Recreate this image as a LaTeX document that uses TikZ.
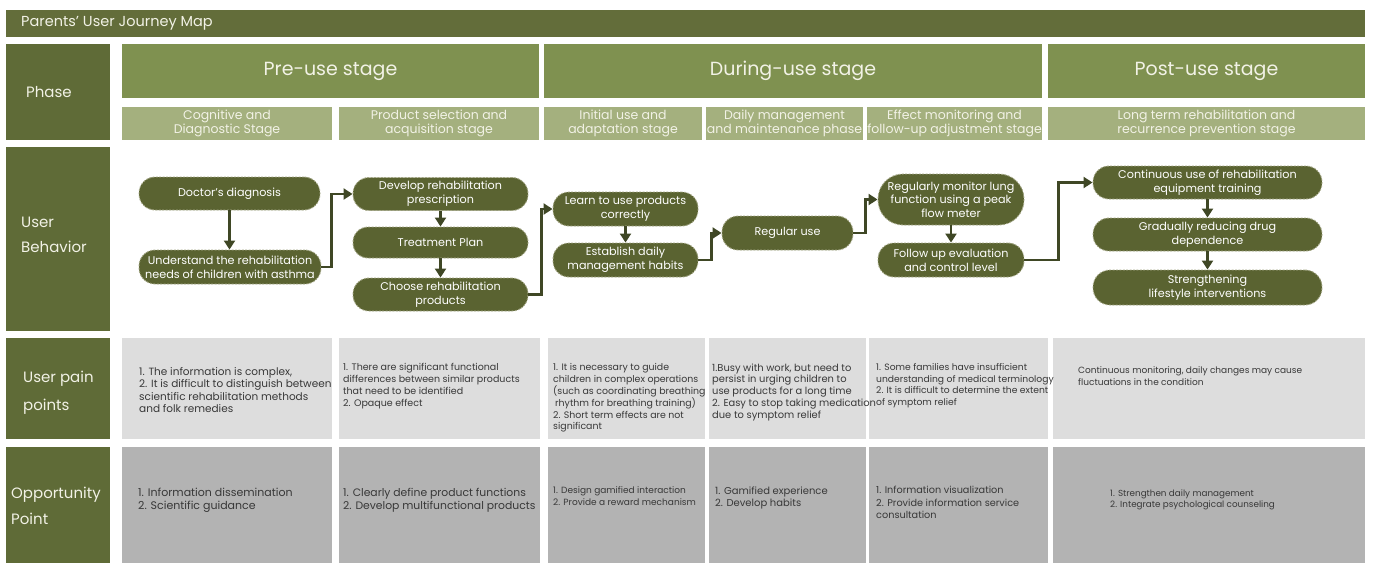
\documentclass[tikz,border=0pt]{standalone}
\usepackage{fontspec}
\setmainfont{Poppins}
\usetikzlibrary{arrows.meta}
\definecolor{titlebar}{HTML}{636D3A}
\definecolor{labelbox}{HTML}{5F6B37}
\definecolor{stagebox}{HTML}{7F9150}
\definecolor{subbox}{HTML}{A4B07E}
\definecolor{nodefill}{HTML}{5A6331}
\definecolor{nodeborder}{HTML}{A3A685}
\definecolor{connc}{HTML}{3F4725}
\definecolor{painc}{HTML}{DDDDDD}
\definecolor{oppc}{HTML}{B3B3B3}
\definecolor{lighttext}{HTML}{F2F2E6}
\definecolor{celltext}{HTML}{383838}
\tikzset{
  box/.style={inner sep=0pt, outer sep=0pt, draw=none},
  titlebox/.style={box, fill=titlebar},
  labbox/.style={box, fill=labelbox, minimum width=104pt},
  stagebx/.style={box, fill=stagebox, minimum height=54pt, text=lighttext, font=\fontsize{19}{23}\selectfont},
  subbx/.style={box, fill=subbox, minimum height=33pt, text=lighttext, align=center, font=\fontsize{12.5}{14.5}\selectfont},
  paincell/.style={box, fill=painc, minimum height=101pt},
  oppcell/.style={box, fill=oppc, minimum height=116pt},
  labtxt/.style={anchor=west, inner sep=0pt, text=lighttext, align=left},
  celltxt/.style={anchor=north west, inner sep=0pt, text=celltext, align=left},
  behav/.style={draw=nodeborder, fill=nodefill, line width=0.9pt, dash pattern=on 2pt off 1.4pt,
    text=white, font=\fontsize{11.2}{14}\selectfont, align=center, inner sep=0pt,
    minimum height=33pt, rounded corners=16pt},
  conn/.style={draw=connc, line width=2.5pt, -{Triangle[width=11pt,length=9pt]}},
}
\begin{document}
\begin{tikzpicture}[x=1pt,y=-1pt]
\path[use as bounding box] (0,0) rectangle (1373,563);
% title
\node[titlebox, minimum width=1359pt, minimum height=27pt] (title) at (685,23.5) {};
\node[labtxt, font=\fontsize{14.5}{16}\selectfont] (titletxt) at (21,23.5) {Parents’ User Journey Map};
% label column
\node[labbox, minimum height=96pt] (lphase) at (58,92) {};
\node[labbox, minimum height=184pt] (lbeh) at (58,239) {};
\node[labbox, minimum height=101pt] (lpain) at (58,388.5) {};
\node[labbox, minimum height=116pt] (lopp) at (58,505) {};
\node[labtxt, font=\fontsize{15}{25}\selectfont] (tphase) at (26,92) {Phase};
\node[labtxt, font=\fontsize{15}{25}\selectfont] (tbeh) at (21,235) {User\\Behavior};
\node[labtxt, font=\fontsize{15}{28}\selectfont] (tpain) at (23,393) {User pain\\points};
\node[labtxt, font=\fontsize{15}{26}\selectfont] (topp) at (11,506) {Opportunity\\Point};
% stages
\node[stagebx, minimum width=417pt] (pre) at (330.5,71) {Pre-use stage};
\node[stagebx, minimum width=498pt] (during) at (793,71) {During-use stage};
\node[stagebx, minimum width=317pt] (post) at (1206.5,71) {Post-use stage};
% sub stages
\node[subbx, minimum width=210pt] (s1) at (227,123.5) {Cognitive and\\Diagnostic Stage};
\node[subbx, minimum width=200pt] (s2) at (439,123.5) {Product selection and\\acquisition stage};
\node[subbx, minimum width=158pt] (s3) at (623,123.5) {Initial use and\\adaptation stage};
\node[subbx, minimum width=157pt] (s4) at (784.5,123.5) {Daily management\\and maintenance phase};
\node[subbx, minimum width=175pt] (s5) at (954.5,123.5) {Effect monitoring and\\follow-up adjustment stage};
\node[subbx, minimum width=317pt] (s6) at (1206.5,123.5) {Long term rehabilitation and\\recurrence prevention stage};
% behaviour nodes
\node[behav, minimum width=181pt] (doc) at (229.5,193.5) {Doctor’s diagnosis};
\node[behav, minimum width=182pt, minimum height=34pt] (und) at (230,267) {Understand the rehabilitation\\needs of children with asthma};
\node[behav, minimum width=175pt] (dev) at (440.5,194) {Develop rehabilitation\\prescription};
\node[behav, minimum width=175pt, minimum height=31pt, rounded corners=15pt] (treat) at (440.5,242.5) {Treatment Plan};
\node[behav, minimum width=175pt] (choose) at (440.5,294.5) {Choose rehabilitation\\products};
\node[behav, minimum width=145pt, minimum height=34pt] (learn) at (625.5,209) {Learn to use products\\correctly};
\node[behav, minimum width=145pt, minimum height=34pt] (est) at (625.5,260) {Establish daily\\management habits};
\node[behav, minimum width=131pt, minimum height=34pt] (reg) at (787.5,233) {Regular use};
\node[behav, minimum width=146pt, minimum height=51pt, rounded corners=25pt, font=\fontsize{11.2}{13.5}\selectfont] (mon) at (951,199.5) {Regularly monitor lung\\function using a peak\\flow meter};
\node[behav, minimum width=146pt, minimum height=34pt] (fol) at (951,260) {Follow up evaluation\\and control level};
\node[behav, minimum width=229pt] (cont) at (1207.5,182.5) {Continuous use of rehabilitation\\equipment training};
\node[behav, minimum width=229pt] (grad) at (1207.5,234.5) {Gradually reducing drug\\dependence};
\node[behav, minimum width=229pt, minimum height=35pt, rounded corners=17pt] (str) at (1207.5,287.5) {Strengthening\\lifestyle interventions};
% connectors
\draw[conn] (doc.south) -- (doc.south |- und.north);
\draw[conn] (und.east) -- ++(10,0) |- (dev.west);
\draw[conn] (dev.south) -- (treat.north);
\draw[conn] (treat.south) -- (choose.north);
\draw[conn] (choose.east) -- ++(13,0) |- (learn.west);
\draw[conn] (learn.south) -- (est.north);
\draw[conn] (est.east) -- ++(13,0) |- (reg.west);
\draw[conn] (reg.east) -- ++(12,0) |- (mon.west);
\draw[conn] (mon.south) -- (fol.north);
\draw[conn] (fol.east) -- ++(34,0) |- (cont.west);
\draw[conn] (cont.south) -- (grad.north);
\draw[conn] (grad.south) -- (str.north);
% pain cells
\node[paincell, minimum width=210pt] (p1) at (227,388.5) {};
\node[paincell, minimum width=201pt] (p2) at (439.5,388.5) {};
\node[paincell, minimum width=157pt] (p3) at (626.5,388.5) {};
\node[paincell, minimum width=157pt] (p4) at (787.5,388.5) {};
\node[paincell, minimum width=179pt] (p5) at (958.5,388.5) {};
\node[paincell, minimum width=312pt] (p6) at (1209,388.5) {};
% opportunity cells
\node[oppcell, minimum width=210pt] (o1) at (227,505) {};
\node[oppcell, minimum width=201pt] (o2) at (439.5,505) {};
\node[oppcell, minimum width=157pt] (o3) at (626.5,505) {};
\node[oppcell, minimum width=157pt] (o4) at (787.5,505) {};
\node[oppcell, minimum width=179pt] (o5) at (958.5,505) {};
\node[oppcell, minimum width=312pt] (o6) at (1209,505) {};
% pain texts
\node[celltxt, font=\fontsize{10.5}{12.5}\selectfont] (pt1) at (139,367) {1. The information is complex,\\2. It is difficult to distinguish between\\scientific rehabilitation methods\\and folk remedies};
\node[celltxt, font=\fontsize{9.5}{12}\selectfont] (pt2) at (343,363.5) {1. There are significant functional\\differences between similar products\\that need to be identified\\2. Opaque effect};
\node[celltxt, font=\fontsize{9.4}{11.8}\selectfont] (pt3) at (553,363.5) {1. It is necessary to guide\\children in complex operations\\(such as coordinating breathing\\\hspace{2pt}rhythm for breathing training)\\2. Short term effects are not\\significant};
\node[celltxt, font=\fontsize{9.9}{11.8}\selectfont] (pt4) at (712,363.3) {1.Busy with work, but need to\\persist in urging children to\\use products for a long time\\2. Easy to stop taking medication\\due to symptom relief};
\node[celltxt, font=\fontsize{9.2}{11.5}\selectfont] (pt5) at (876,363.5) {1. Some families have insufficient\\understanding of medical terminology\\2. It is difficult to determine the extent\\of symptom relief};
\node[celltxt, font=\fontsize{9}{12}\selectfont] (pt6) at (1078,366.6) {Continuous monitoring, daily changes may cause\\fluctuations in the condition};
% opportunity texts
\node[celltxt, font=\fontsize{11}{13}\selectfont] (ot1) at (138,487.8) {1. Information dissemination\\2. Scientific guidance};
\node[celltxt, font=\fontsize{10.8}{13}\selectfont] (ot2) at (343,487.9) {1. Clearly define product functions\\2. Develop multifunctional products};
\node[celltxt, font=\fontsize{9}{12}\selectfont] (ot3) at (553,486.6) {1. Design gamified interaction\\2. Provide a reward mechanism};
\node[celltxt, font=\fontsize{10}{12}\selectfont] (ot4) at (715,486.2) {1. Gamified experience\\2. Develop habits};
\node[celltxt, font=\fontsize{9.7}{12.5}\selectfont] (ot5) at (876,486.3) {1. Information visualization\\2. Provide information service\\consultation};
\node[celltxt, font=\fontsize{8.8}{11}\selectfont] (ot6) at (1110,489.7) {1. Strengthen daily management\\2. Integrate psychological counseling};
\end{tikzpicture}
\end{document}
